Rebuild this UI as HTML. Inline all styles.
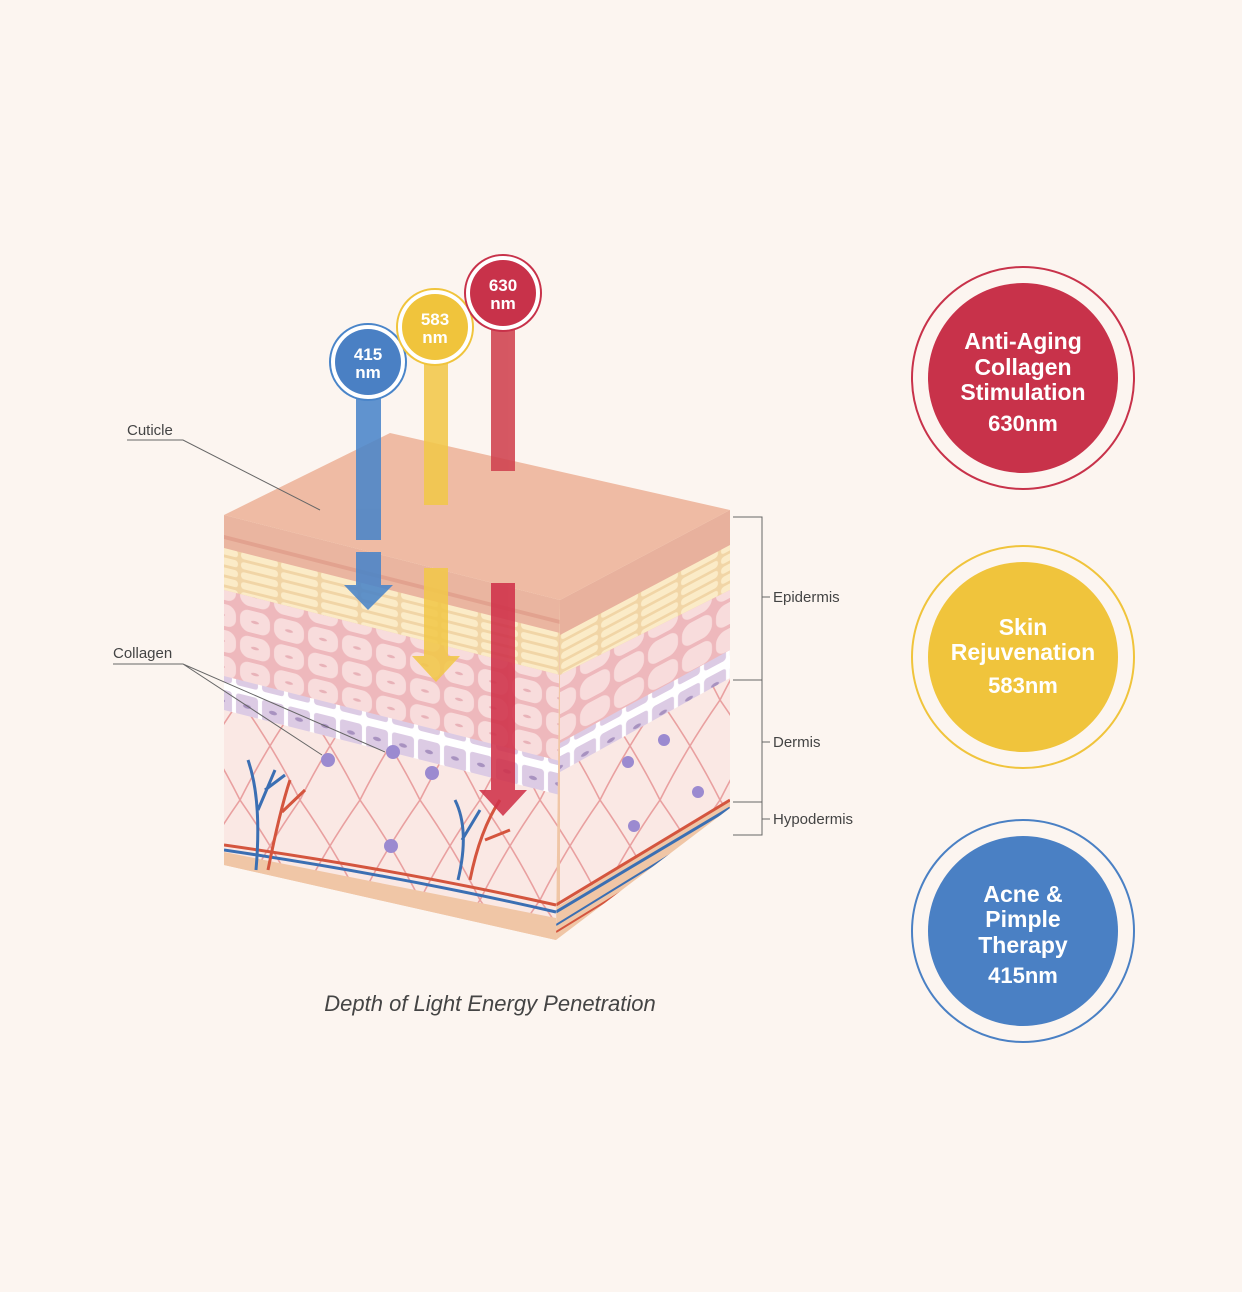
<!DOCTYPE html>
<html><head><meta charset="utf-8"><style>
html,body{margin:0;padding:0;background:#fcf5f0;}
svg{display:block}
</style></head><body>
<svg width="1242" height="1292" viewBox="0 0 1242 1292" xmlns="http://www.w3.org/2000/svg" font-family="Liberation Sans, sans-serif">
<defs>
<clipPath id="front"><polygon points="224,515 560,600 556,940 224,865"/></clipPath>
<clipPath id="right"><polygon points="560,600 730,510 730,808 556,940"/></clipPath>
<pattern id="cells" width="34" height="26" patternUnits="userSpaceOnUse" patternTransform="skewY(14)">
<rect width="34" height="26" fill="#eeb8bc"/>
<rect x="2" y="2" width="30" height="22" rx="9" fill="#f8dcdc"/>
<ellipse cx="17" cy="13" rx="4" ry="1.5" fill="#e8b2b8"/>
</pattern>
<pattern id="cellsR" width="34" height="26" patternUnits="userSpaceOnUse" patternTransform="skewY(-28)">
<rect width="34" height="26" fill="#eeb8bc"/>
<rect x="2" y="2" width="30" height="22" rx="9" fill="#f8dcdc"/>
</pattern>
<pattern id="yel" width="40" height="10" patternUnits="userSpaceOnUse" patternTransform="skewY(14)">
<rect width="40" height="10" fill="#f1d5a6"/>
<rect x="1" y="1.5" width="37" height="7" rx="3" fill="#fbebc7"/>
</pattern>
<pattern id="yelR" width="40" height="10" patternUnits="userSpaceOnUse" patternTransform="skewY(-28)">
<rect width="40" height="10" fill="#f1d5a6"/>
<rect x="1" y="1.5" width="37" height="7" rx="3" fill="#fbebc7"/>
</pattern>
<pattern id="basal" width="26" height="30" patternUnits="userSpaceOnUse" patternTransform="skewY(14)">
<rect width="26" height="30" fill="#fff"/>
<rect x="2" y="4" width="22" height="22" rx="3" fill="#dccbe4"/>
<ellipse cx="13" cy="15" rx="4" ry="2" fill="#a892c0"/>
</pattern>
<pattern id="basalR" width="26" height="30" patternUnits="userSpaceOnUse" patternTransform="skewY(-28)">
<rect width="26" height="30" fill="#fff"/>
<rect x="2" y="4" width="22" height="22" rx="3" fill="#dccbe4"/>
<ellipse cx="13" cy="15" rx="4" ry="2" fill="#a892c0"/>
</pattern>
<pattern id="derm" width="60" height="100" patternUnits="userSpaceOnUse">
<rect width="60" height="100" fill="#fae8e4"/>
<path d="M0,0 Q35,50 60,100 M60,0 Q25,50 0,100" stroke="#e9a0a0" stroke-width="1.6" fill="none"/>
</pattern>
</defs>

<!-- Front face -->
<g clip-path="url(#front)">
<rect x="220" y="500" width="350" height="450" fill="#f0c6a6"/>
<polygon points="224,515 560,600 560,640 224,555" fill="#eab5a0"/>
<polygon points="224,535 560,620 560,624 224,539" fill="#e2a28f"/>
<polygon points="224,548 560,633 560,675 224,590" fill="url(#yel)"/>
<polygon points="224,590 560,675 560,765 224,680" fill="url(#cells)"/>
<polygon points="224,676 560,761 560,798 224,713" fill="url(#basal)"/>
<polygon points="224,710 560,795 556,940 224,855" fill="url(#derm)"/>
<path d="M224,845 Q400,870 556,905" stroke="#d4553e" stroke-width="3" fill="none"/>
<path d="M224,850 Q400,876 556,912" stroke="#3b6fb3" stroke-width="3" fill="none"/>
<polygon points="224,852 556,918 556,950 224,880" fill="#f0c6a6"/>
</g>
<!-- Right face -->
<g clip-path="url(#right)">
<rect x="550" y="500" width="190" height="450" fill="#f0c6a6"/>
<polygon points="560,600 730,510 730,548 560,640" fill="#e8b19d"/>
<polygon points="560,635 730,545 730,590 560,675" fill="url(#yelR)"/>
<polygon points="560,675 730,590 730,655 560,745" fill="url(#cellsR)"/>
<polygon points="560,743 730,650 730,680 560,775" fill="url(#basalR)"/>
<polygon points="560,772 730,678 730,800 560,905" fill="url(#derm)"/>
<path d="M556,905 L730,800" stroke="#d4553e" stroke-width="3"/>
<path d="M556,912 L730,808" stroke="#3b6fb3" stroke-width="3"/>
<path d="M556,925 L730,818" stroke="#3b6fb3" stroke-width="2"/>
<path d="M556,932 L730,825" stroke="#d4553e" stroke-width="2"/>
</g>
<!-- Top face -->
<polygon points="224,515 390,433 730,510 560,600" fill="#efbba4"/>

<!-- stars / vessels -->
<g fill="#9b8ad0">
<circle cx="328" cy="760" r="7"/><circle cx="393" cy="752" r="7"/><circle cx="432" cy="773" r="7"/><circle cx="391" cy="846" r="7"/><circle cx="664" cy="740" r="6"/><circle cx="698" cy="792" r="6"/><circle cx="634" cy="826" r="6"/><circle cx="628" cy="762" r="6"/>
</g>
<path d="M256,870 Q262,800 248,760 M258,810 L275,770 M265,790 L285,775" stroke="#3b6fb3" stroke-width="3" fill="none"/>
<path d="M268,870 Q280,810 290,780 M282,812 L305,790" stroke="#d4553e" stroke-width="3" fill="none"/>
<path d="M458,880 Q470,830 455,800 M462,840 L480,810" stroke="#3b6fb3" stroke-width="3" fill="none"/>
<path d="M470,880 Q480,830 500,800 M485,840 L510,830" stroke="#d4553e" stroke-width="3" fill="none"/>

<!-- Arrows -->
<g opacity="0.88">
<rect x="356" y="395" width="25" height="145" fill="#4a85c9"/>
<rect x="356" y="552" width="25" height="35" fill="#4a85c9"/>
<polygon points="344,585 393,585 368,610" fill="#4a85c9"/>
<rect x="424" y="360" width="24" height="145" fill="#f2c84a"/>
<rect x="424" y="568" width="24" height="90" fill="#f2c84a"/>
<polygon points="412,656 460,656 436,682" fill="#f2c84a"/>
<rect x="491" y="325" width="24" height="146" fill="#d0424f"/>
<rect x="491" y="583" width="24" height="210" fill="#d0324a"/>
<polygon points="479,790 527,790 503,816" fill="#d0324a"/>
</g>
<g font-weight="bold" fill="#fff" text-anchor="middle" font-size="17">
<circle cx="368" cy="362" r="38" fill="#fff" stroke="#4a85c9" stroke-width="2"/>
<circle cx="368" cy="362" r="33" fill="#4a80c4"/>
<text x="368" y="360">415</text><text x="368" y="378">nm</text>
<circle cx="435" cy="327" r="38" fill="#fff" stroke="#f0c43c" stroke-width="2"/>
<circle cx="435" cy="327" r="33" fill="#f0c43c"/>
<text x="435" y="325">583</text><text x="435" y="343">nm</text>
<circle cx="503" cy="293" r="38" fill="#fff" stroke="#c8324a" stroke-width="2"/>
<circle cx="503" cy="293" r="33" fill="#c8324a"/>
<text x="503" y="291">630</text><text x="503" y="309">nm</text>
</g>

<!-- Leader labels -->
<g stroke="#666" stroke-width="1" fill="none">
<path d="M127,440 L183,440 L320,510"/>
<path d="M113,664 L183,664 L385,752 M183,664 L322,755"/>
<path d="M733,517 L762,517 L762,835 L733,835 M733,680 L762,680 M733,802 L762,802 M762,597 L770,597 M762,742 L770,742 M762,819 L770,819"/>
</g>
<g font-size="15" fill="#444">
<text x="127" y="435">Cuticle</text>
<text x="113" y="658">Collagen</text>
<text x="773" y="602">Epidermis</text>
<text x="773" y="747">Dermis</text>
<text x="773" y="824">Hypodermis</text>
</g>
<text x="490" y="1011" font-size="22" font-style="italic" fill="#444" text-anchor="middle">Depth of Light Energy Penetration</text>

<!-- Right circles -->
<g text-anchor="middle" font-weight="bold" fill="#fff">
<circle cx="1023" cy="378" r="111" fill="none" stroke="#c8324a" stroke-width="2"/>
<circle cx="1023" cy="378" r="95" fill="#c8324a"/>
<text x="1023" y="349" font-size="23">Anti-Aging</text>
<text x="1023" y="375" font-size="23">Collagen</text>
<text x="1023" y="400" font-size="23">Stimulation</text>
<text x="1023" y="431" font-size="22">630nm</text>

<circle cx="1023" cy="657" r="111" fill="none" stroke="#f0c43c" stroke-width="2"/>
<circle cx="1023" cy="657" r="95" fill="#f0c43c"/>
<text x="1023" y="635" font-size="23">Skin</text>
<text x="1023" y="660" font-size="23">Rejuvenation</text>
<text x="1023" y="693" font-size="22">583nm</text>

<circle cx="1023" cy="931" r="111" fill="none" stroke="#4a80c4" stroke-width="2"/>
<circle cx="1023" cy="931" r="95" fill="#4a80c4"/>
<text x="1023" y="902" font-size="23">Acne &amp;</text>
<text x="1023" y="927" font-size="23">Pimple</text>
<text x="1023" y="953" font-size="23">Therapy</text>
<text x="1023" y="983" font-size="22">415nm</text>
</g>
</svg>
</body></html>
